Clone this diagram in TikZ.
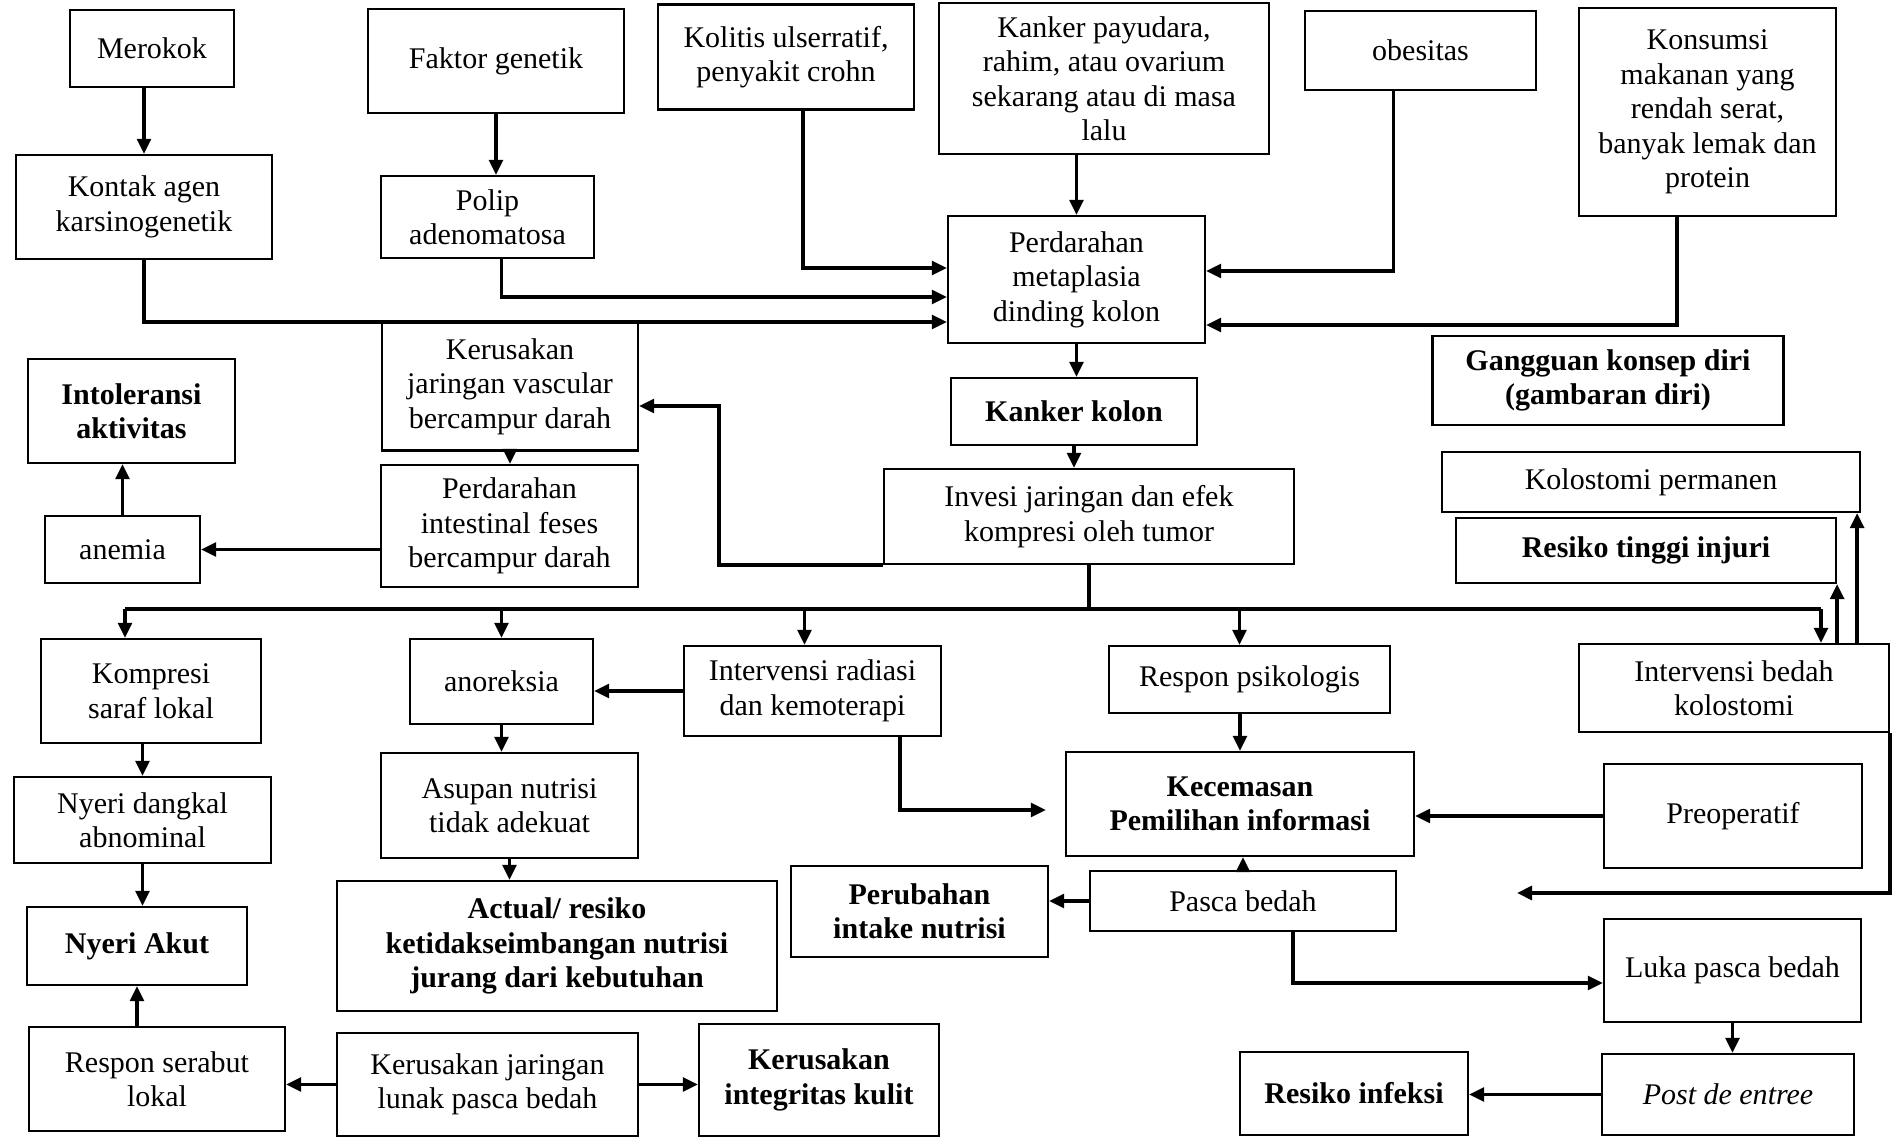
\documentclass[tikz,border=0pt]{standalone}
\usepackage{fontspec}
\setmainfont{Liberation Serif}
\usetikzlibrary{arrows.meta,calc}

\tikzstyle{box} = [draw, line width=0.9pt, align=center, inner sep=2pt, font=\fontsize{12}{13.8}\selectfont]
\tikzstyle{diag box} = [box, font=\fontsize{12}{13.8}\selectfont\bfseries]
\tikzstyle{link} = [draw, line width=1.4pt, -{Triangle[length=6pt,width=5.5pt]}]
\tikzstyle{bus} = [draw, line width=1.4pt, -]

\begin{document}
\begin{tikzpicture}[x=0.4pt, y=-0.4pt]
       \useasboundingbox (0,0) rectangle (1894,1137);
       % plain boxes
       \foreach \pos/\name/\w/\h/\txt in {{(152,48.5)/merokok/164/77/{Merokok}},
           {(496,61)/faktor/256/104/{Faktor genetik}},
           {(786,57)/kolitis/256/105/{Kolitis ulserratif,\\penyakit crohn}},
           {(1104,78.5)/kanker/330/151/{Kanker payudara,\\rahim, atau ovarium\\sekarang atau di masa\\lalu}},
           {(1420.5,50.5)/obesitas/231/79/{obesitas}},
           {(1707.5,112)/konsumsi/257/208/{Konsumsi\\makanan yang\\rendah serat,\\banyak lemak dan\\protein}},
           {(144,207)/kontak/256/104/{Kontak agen\\karsinogenetik}},
           {(487.5,217)/polip/213/82/{Polip\\adenomatosa}},
           {(1076.5,279.5)/metaplasia/257/127/{Perdarahan\\metaplasia\\dinding kolon}},
           {(510,386.5)/vaskular/256/128/{Kerusakan\\jaringan vascular\\bercampur darah}},
           {(1651,482)/permanen/418/60/{Kolostomi permanen}},
           {(1089,516.5)/invasi/410/95/{Invesi jaringan dan efek\\kompresi oleh tumor}},
           {(509.5,526)/intestinal/257/122/{Perdarahan\\intestinal feses\\bercampur darah}},
           {(122.5,549.5)/anemia/155/67/{anemia}},
           {(151,691)/kompresi/220/104/{Kompresi\\saraf lokal}},
           {(501.5,681.5)/anoreksia/183/85/{anoreksia}},
           {(812.5,691)/radiasi/257/90/{Intervensi radiasi\\dan kemoterapi}},
           {(1249.5,679.5)/psikologis/281/67/{Respon psikologis}},
           {(1734,688)/bedah/310/88/{Intervensi bedah\\kolostomi}},
           {(142.5,820)/dangkal/257/86/{Nyeri dangkal\\abnominal}},
           {(509.5,805.5)/asupan/257/105/{Asupan nutrisi\\tidak adekuat}},
           {(1733,816)/preop/258/104/{Preoperatif}},
           {(1243,901)/pasca/306/60/{Pasca bedah}},
           {(1732.5,970.5)/luka/257/103/{Luka pasca bedah}},
           {(157,1079)/serabut/256/104/{Respon serabut\\lokal}},
           {(487.5,1084.5)/lunak/301/103/{Kerusakan jaringan\\lunak pasca bedah}},
           {(1728,1094.5)/entree/252/81/{\textit{Post de entree}}}} {
           \node[box, minimum width=\w*0.4pt, minimum height=\h*0.4pt] (\name) at \pos {\txt};
       }
       % diagnosa (bold)
       \foreach \pos/\name/\w/\h/\txt in {{(131.5,411)/intoleransi/207/104/{Intoleransi\\aktivitas}},
           {(1074,411.5)/kolon/246/67/{Kanker kolon}},
           {(1608,380.5)/konsep/351/89/{Gangguan konsep diri\\(gambaran diri)}},
           {(1646,550.5)/injuri/380/65/{Resiko tinggi injuri}},
           {(1240,804)/cemas/348/104/{Kecemasan\\Pemilihan informasi}},
           {(137,946)/akut/220/78/{Nyeri Akut}},
           {(557,946)/nutrisi/440/130/{Actual/ resiko\\ketidakseimbangan nutrisi\\jurang dari kebutuhan}},
           {(919.5,911.5)/intake/257/91/{Perubahan\\intake nutrisi}},
           {(819,1080)/kulit/240/112/{Kerusakan\\integritas kulit}},
           {(1354,1093.5)/infeksi/228/83/{Resiko infeksi}}} {
           \node[diag box, minimum width=\w*0.4pt, minimum height=\h*0.4pt] (\name) at \pos {\txt};
       }
       % straight arrows
       \foreach \source/\sink in {merokok.south -| kontak.north/kontak.north,
           faktor.south/faktor.south |- polip.north,
           kanker.south -| metaplasia.north/metaplasia.north,
           metaplasia.south/metaplasia.south |- kolon.north,
           kolon.south/kolon.south |- invasi.north,
           vaskular.south/vaskular.south |- intestinal.north,
           intestinal.west |- anemia.east/anemia.east,
           anemia.north/anemia.north |- intoleransi.south,
           dangkal.north |- kompresi.south/dangkal.north,
           dangkal.south/dangkal.south |- akut.north,
           akut.south |- serabut.north/akut.south,
           lunak.west/lunak.west -| serabut.east,
           lunak.east/lunak.east -| kulit.west,
           radiasi.west/radiasi.west -| anoreksia.east,
           anoreksia.south/anoreksia.south |- asupan.north,
           asupan.south/asupan.south |- nutrisi.north,
           cemas.north |- psikologis.south/cemas.north,
           pasca.north/pasca.north |- cemas.south,
           pasca.west/pasca.west -| intake.east,
           preop.west/preop.west -| cemas.east,
           luka.south/luka.south |- entree.north,
           entree.west/entree.west -| infeksi.east,
           injuri.south east |- bedah.north/injuri.south east} {
           \path[link] (\source) -- (\sink);
       }
       % elbow arrows
       \path[link] ($(kolitis.south)+(17,0)$) |- ($(metaplasia.west)+(0,-11.5)$);
       \path[link] ($(polip.south)+(14,0)$) |- ($(metaplasia.west)+(0,17.5)$);
       \path[link] (kontak.south) |- ($(metaplasia.west)+(0,42.5)$);
       \path[link] ($(obesitas.south)+(-27,0)$) |- ($(metaplasia.east)+(0,-8.5)$);
       \path[link] ($(konsumsi.south)+(-30.5,0)$) |- ($(metaplasia.east)+(0,45.5)$);
       \path[link] (invasi.south west) -- ++(-164,0) |- ($(vaskular.east)+(0,19.5)$);
       \path[link] ($(radiasi.south)+(87.5,0)$) |- ($(cemas.west)+(-19,6)$);
       \path[link] ($(pasca.south)+(50,0)$) |- ($(luka.west)+(0,12.5)$);
       \path[link] ($(permanen.south east |- bedah.north)+(-4,0)$) -- ($(permanen.south east)+(-4,0)$);
       \coordinate (bedahout) at (1517,893);
       \path[link] (bedah.south east) |- (bedahout);
       % tumor branches
       \path[bus] (invasi.south) -- ++(0,44) coordinate (split);
       \path[bus] ($(kompresi.north |- split)+(-26,0)$) -- ($(bedah.north |- split)+(87,0)$);
       \foreach \target/\dx in {kompresi/-26, anoreksia/0, radiasi/-8, psikologis/-10, bedah/87} {
           \path[link] ($(\target.north |- split)+(\dx,0)$) -- ($(\target.north)+(\dx,0)$);
       }
\end{tikzpicture}
\end{document}
